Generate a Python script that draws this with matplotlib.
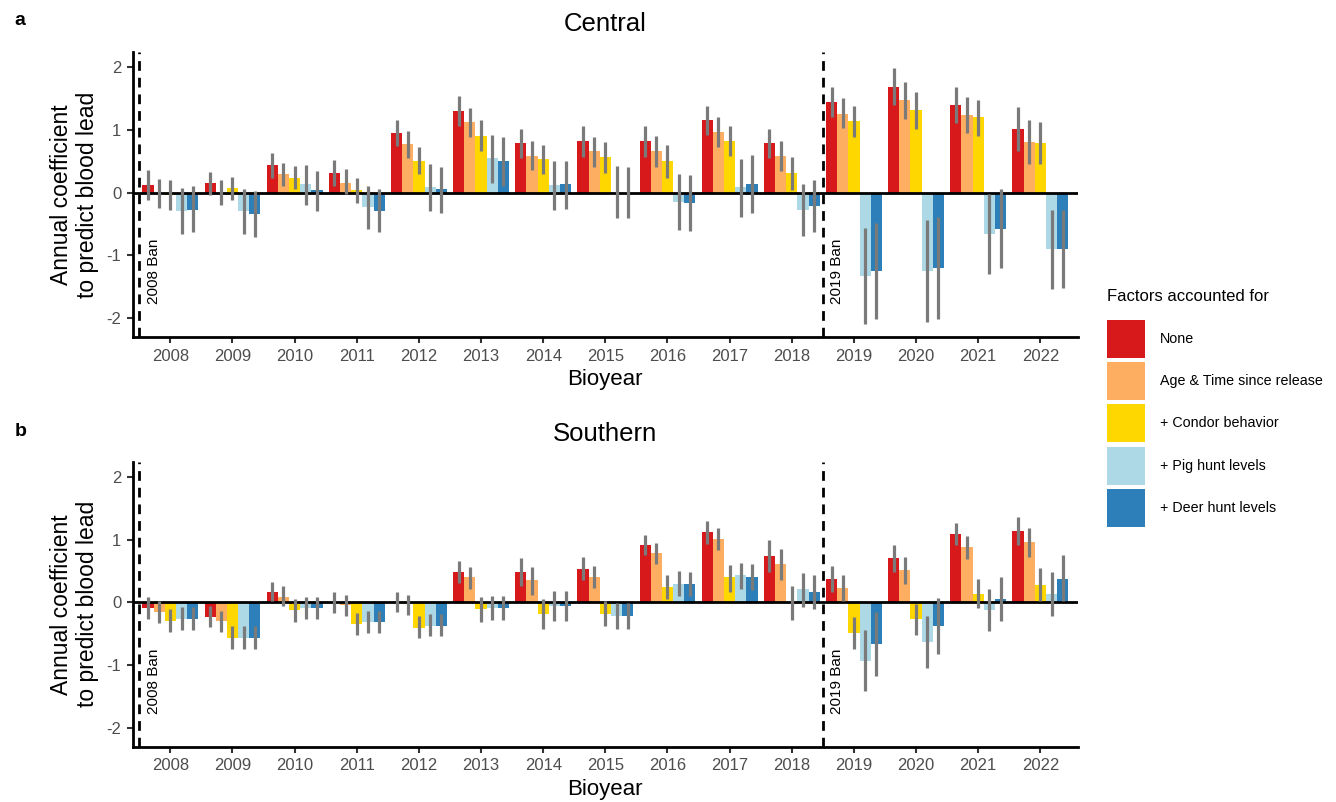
import numpy as np
import matplotlib.pyplot as plt
from matplotlib.patches import Patch

plt.rcParams['font.family'] = ['Liberation Sans', 'DejaVu Sans']
plt.rcParams['axes.unicode_minus'] = False

years = [2008, 2009, 2010, 2011, 2012, 2013, 2014, 2015, 2016, 2017, 2018, 2019, 2020, 2021, 2022]
factors = ['None', 'Age & Time since release', '+ Condor behavior', '+ Pig hunt levels', '+ Deer hunt levels']
colors = ['#D7191C', '#FDAE61', '#FFD700', '#ADD8E6', '#2C7FB8']
bans = [2008, 2019]

# Central
c_none = [0.12, 0.15, 0.44, 0.31, 0.95, 1.30, 0.79, 0.82, 0.82, 1.15, 0.79, 1.44, 1.69, 1.39, 1.01]
c_none_lo = [-0.12, -0.04, 0.24, 0.11, 0.74, 1.06, 0.55, 0.57, 0.56, 0.92, 0.55, 1.21, 1.40, 1.11, 0.67]
c_none_hi = [0.36, 0.33, 0.63, 0.52, 1.16, 1.54, 1.01, 1.06, 1.06, 1.38, 1.01, 1.68, 1.98, 1.68, 1.36]
c_age = [-0.01, 0.00, 0.29, 0.16, 0.77, 1.12, 0.59, 0.66, 0.66, 0.96, 0.58, 1.26, 1.47, 1.23, 0.80]
c_age_lo = [-0.24, -0.19, 0.10, -0.03, 0.55, 0.88, 0.36, 0.41, 0.41, 0.73, 0.35, 1.03, 1.18, 0.95, 0.45]
c_age_hi = [0.21, 0.20, 0.48, 0.38, 0.98, 1.35, 0.83, 0.89, 0.91, 1.20, 0.82, 1.51, 1.76, 1.52, 1.15]
c_condor = [-0.04, 0.07, 0.24, 0.04, 0.50, 0.91, 0.53, 0.56, 0.50, 0.83, 0.31, 1.14, 1.31, 1.20, 0.79]
c_condor_lo = [-0.27, -0.12, 0.06, -0.17, 0.29, 0.66, 0.30, 0.31, 0.24, 0.58, 0.04, 0.89, 1.02, 0.91, 0.45]
c_condor_hi = [0.20, 0.25, 0.43, 0.24, 0.72, 1.15, 0.76, 0.80, 0.76, 1.06, 0.56, 1.38, 1.60, 1.48, 1.13]
c_pig = [-0.30, -0.30, 0.13, -0.23, 0.085, 0.55, 0.12, 0.01, -0.15, 0.085, -0.28, -1.33, -1.25, -0.66, -0.90]
c_pig_lo = [-0.66, -0.66, -0.19, -0.58, -0.29, 0.15, -0.27, -0.40, -0.60, -0.39, -0.69, -2.09, -2.06, -1.29, -1.54]
c_pig_hi = [0.07, 0.06, 0.44, 0.11, 0.45, 0.92, 0.51, 0.43, 0.30, 0.54, 0.14, -0.57, -0.43, -0.02, -0.27]
c_deer = [-0.27, -0.34, 0.04, -0.30, 0.05, 0.50, 0.13, 0.00, -0.16, 0.13, -0.21, -1.25, -1.20, -0.58, -0.90]
c_deer_lo = [-0.63, -0.70, -0.29, -0.63, -0.32, 0.11, -0.26, -0.41, -0.62, -0.32, -0.63, -2.01, -2.01, -1.21, -1.52]
c_deer_hi = [0.11, 0.03, 0.35, 0.06, 0.41, 0.88, 0.51, 0.41, 0.28, 0.60, 0.20, -0.49, -0.39, 0.06, -0.27]

# Southern
s_none = [-0.09, -0.23, 0.17, 0.00, 0.01, 0.49, 0.49, 0.54, 0.92, 1.12, 0.74, 0.38, 0.71, 1.09, 1.14]
s_none_lo = [-0.26, -0.39, 0.03, -0.17, -0.15, 0.31, 0.26, 0.36, 0.75, 0.93, 0.49, 0.16, 0.49, 0.91, 0.91]
s_none_hi = [0.09, -0.05, 0.33, 0.17, 0.17, 0.66, 0.71, 0.72, 1.08, 1.30, 0.99, 0.58, 0.92, 1.26, 1.36]
s_age = [-0.15, -0.30, 0.09, -0.04, -0.02, 0.40, 0.35, 0.41, 0.79, 1.01, 0.62, 0.23, 0.52, 0.89, 0.96]
s_age_lo = [-0.33, -0.47, -0.06, -0.21, -0.20, 0.22, 0.12, 0.23, 0.62, 0.83, 0.36, 0.02, 0.30, 0.70, 0.73]
s_age_hi = [0.03, -0.13, 0.26, 0.12, 0.12, 0.56, 0.56, 0.58, 0.95, 1.19, 0.85, 0.43, 0.73, 1.06, 1.19]
s_condor = [-0.30, -0.56, -0.12, -0.34, -0.41, -0.11, -0.18, -0.18, 0.25, 0.40, -0.01, -0.48, -0.26, 0.14, 0.28]
s_condor_lo = [-0.47, -0.74, -0.31, -0.52, -0.57, -0.31, -0.42, -0.38, 0.05, 0.17, -0.28, -0.74, -0.52, -0.09, 0.03]
s_condor_hi = [-0.11, -0.37, 0.06, -0.17, -0.22, 0.08, 0.05, 0.03, 0.44, 0.60, 0.26, -0.23, -0.02, 0.37, 0.55]
s_pig = [-0.26, -0.56, -0.09, -0.31, -0.37, -0.09, -0.06, -0.22, 0.30, 0.43, 0.21, -0.93, -0.63, -0.12, 0.14]
s_pig_lo = [-0.44, -0.74, -0.26, -0.48, -0.54, -0.28, -0.29, -0.42, 0.11, 0.21, -0.07, -1.41, -1.05, -0.45, -0.21]
s_pig_hi = [-0.08, -0.37, 0.09, -0.13, -0.19, 0.10, 0.18, -0.01, 0.50, 0.63, 0.47, -0.44, -0.21, 0.21, 0.49]
s_deer = [-0.26, -0.56, -0.09, -0.31, -0.37, -0.09, -0.06, -0.22, 0.30, 0.41, 0.17, -0.67, -0.37, 0.06, 0.38]
s_deer_lo = [-0.44, -0.74, -0.26, -0.48, -0.54, -0.28, -0.29, -0.42, 0.10, 0.20, -0.11, -1.18, -0.82, -0.30, 0.02]
s_deer_hi = [-0.08, -0.37, 0.09, -0.13, -0.19, 0.10, 0.18, -0.01, 0.48, 0.62, 0.44, -0.16, 0.07, 0.41, 0.75]

central = [(c_none, c_none_lo, c_none_hi), (c_age, c_age_lo, c_age_hi),
           (c_condor, c_condor_lo, c_condor_hi), (c_pig, c_pig_lo, c_pig_hi),
           (c_deer, c_deer_lo, c_deer_hi)]
southern = [(s_none, s_none_lo, s_none_hi), (s_age, s_age_lo, s_age_hi),
            (s_condor, s_condor_lo, s_condor_hi), (s_pig, s_pig_lo, s_pig_hi),
            (s_deer, s_deer_lo, s_deer_hi)]

fig = plt.figure(figsize=(13.36, 8.02), dpi=100)
ax1 = fig.add_axes([0.0996, 0.580, 0.707, 0.355])
ax2 = fig.add_axes([0.0996, 0.069, 0.707, 0.355])

x = np.arange(len(years))
w = 0.18


def draw_panel(ax, series, title):
    for i, (est, lo, hi) in enumerate(series):
        pos = x + (i - 2) * w
        ax.bar(pos, est, width=w, color=colors[i], zorder=2)
        ax.vlines(pos, lo, hi, color='#7a7a7a', lw=2.3, zorder=4)
    ax.axhline(0, color='black', lw=2, zorder=3)
    for b in bans:
        bx = years.index(b) - 0.5
        ax.axvline(bx, color='black', lw=2, ls=(0, (3.5, 2.5)), zorder=5)
        ax.text(bx + 0.12, -1.78, '%d Ban' % b, rotation=90, ha='left', va='bottom', fontsize=11)
    ax.set_xlim(-0.6, 14.6)
    ax.set_ylim(-2.3, 2.24)
    ax.set_xticks(x)
    ax.set_xticklabels(years)
    ax.set_yticks([-2, -1, 0, 1, 2])
    ax.tick_params(labelsize=12, labelcolor='#4d4d4d', color='#333333', length=4.5, width=1.5, pad=4)
    for s in ['top', 'right']:
        ax.spines[s].set_visible(False)
    for s in ['left', 'bottom']:
        ax.spines[s].set_linewidth(2)
    ax.set_xlabel('Bioyear', fontsize=16, labelpad=4)
    ax.set_ylabel('Annual coefficient\nto predict blood lead', fontsize=16.5, labelpad=5)
    ax.set_title(title, fontsize=18.5, pad=15)


draw_panel(ax1, central, 'Central')
draw_panel(ax2, southern, 'Southern')

fig.text(0.011, 0.975, 'a', fontsize=14, fontweight='bold', va='center')
fig.text(0.011, 0.462, 'b', fontsize=14, fontweight='bold', va='center')

handles = [Patch(facecolor=c) for c in colors]
leg = fig.legend(handles, factors, loc='upper left', bbox_to_anchor=(0.8286, 0.640),
                 frameon=False, fontsize=10.3, title='Factors accounted for\n', title_fontsize=12,
                 alignment='left', handlelength=2.65, handleheight=3.7, labelspacing=0.3,
                 handletextpad=1.05, borderpad=0, borderaxespad=0)
leg.get_title().set_linespacing(0.75)

fig.savefig('out.png', dpi=100)
